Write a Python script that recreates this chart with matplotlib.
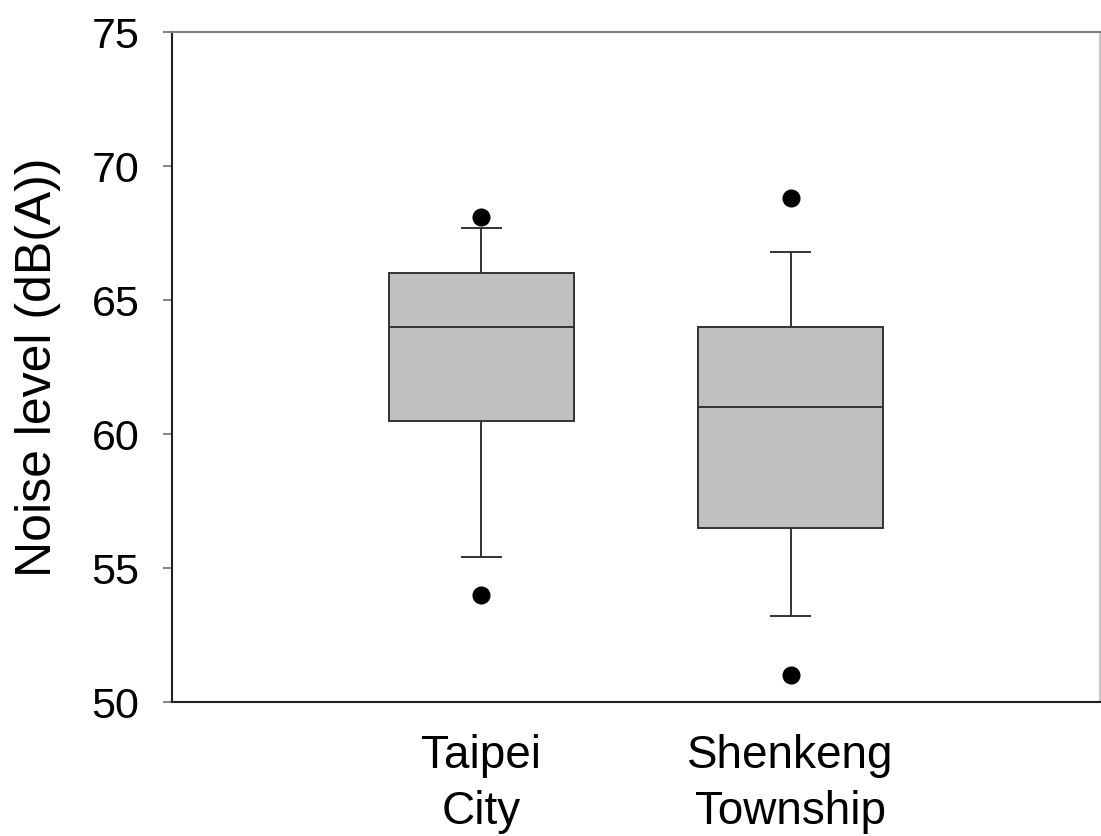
import matplotlib
matplotlib.use("Agg")
import matplotlib.pyplot as plt

# Box summaries (dB(A))
sites = ["Taipei\nCity", "Shenkeng\nTownship"]
q1 = [60.5, 56.5]
median = [64.0, 61.0]
q3 = [66.0, 64.0]
whisker_low = [55.4, 53.2]
whisker_high = [67.7, 66.8]
outliers = [[68.1, 54.0], [68.8, 51.0]]

yticks = [50, 55, 60, 65, 70, 75]

stats = []
for i, label in enumerate(sites):
    stats.append(dict(label=label, q1=q1[i], med=median[i], q3=q3[i],
                      whislo=whisker_low[i], whishi=whisker_high[i],
                      fliers=outliers[i]))

fig = plt.figure(figsize=(11.01, 8.36), dpi=100)
ax = fig.add_axes([172 / 1101, 1 - 702 / 836, (1100 - 172) / 1101, (702 - 32) / 836])

ax.bxp(stats, positions=[1, 2], widths=0.6, patch_artist=True, capwidths=0.125,
       boxprops=dict(facecolor="#c0c0c0", edgecolor="#333333", linewidth=1.4),
       medianprops=dict(color="#333333", linewidth=1.4),
       whiskerprops=dict(color="#333333", linewidth=1.4),
       capprops=dict(color="#333333", linewidth=1.4),
       flierprops=dict(marker="o", markerfacecolor="black", markeredgecolor="black",
                       markersize=12, linestyle="none"))

ax.set_xlim(0, 3)
ax.set_ylim(50, 75)
ax.set_yticks(yticks)
ax.set_yticklabels([str(t) for t in yticks], fontsize=31, family="Liberation Sans")
ax.tick_params(axis="y", direction="out", length=6.5, width=1.2, color="#707070", pad=17)
ax.tick_params(axis="x", length=0, pad=23)
ax.set_xticklabels(sites, fontsize=33, family="Liberation Sans", linespacing=1.35)

ax.spines["left"].set_color("#202020")
ax.spines["bottom"].set_color("#202020")
ax.spines["top"].set_color("#808080")
ax.spines["right"].set_color("#c8c8c8")
for s in ax.spines.values():
    s.set_linewidth(1.5)

ax.set_ylabel("Noise level (dB(A))", fontsize=36, family="Liberation Sans", labelpad=22)

fig.savefig("out.png", dpi=100)
